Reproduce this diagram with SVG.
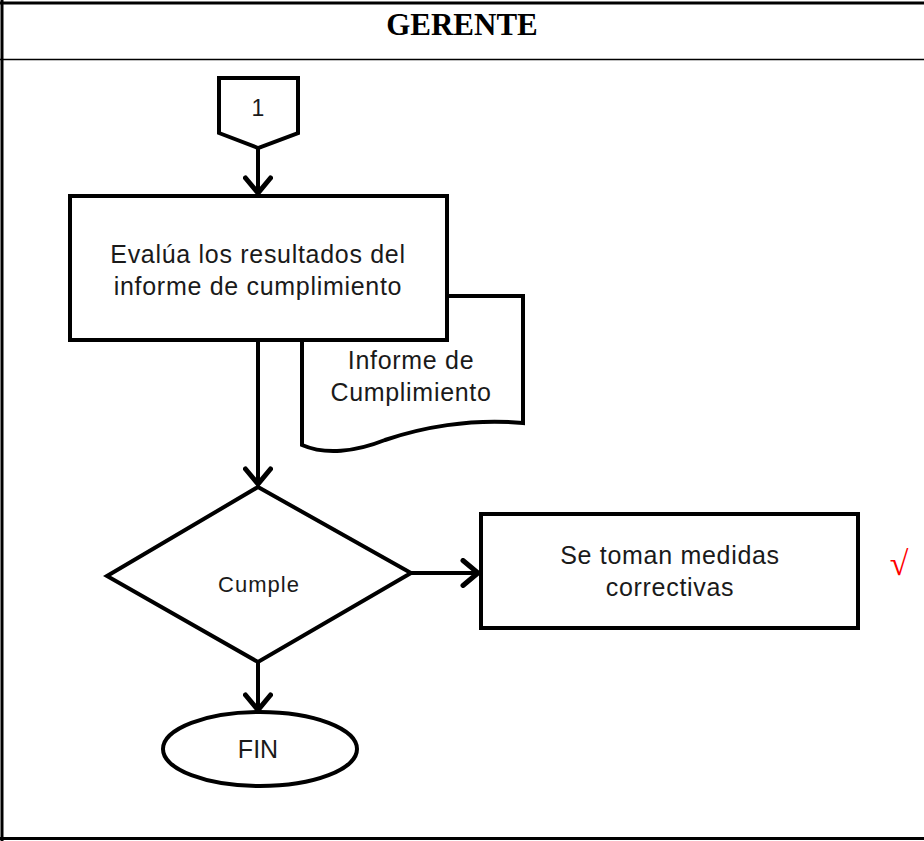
<svg xmlns="http://www.w3.org/2000/svg" width="924" height="841" viewBox="0 0 924 841">
<style>
.shape{fill:#fff;stroke:#000;stroke-width:4;stroke-linejoin:miter}
.conn{fill:none;stroke:#000;stroke-width:4}
.t{font-family:"Liberation Sans",Arial,sans-serif;font-size:25px;letter-spacing:0.7px;fill:#1a1a1a;text-anchor:middle}
.frame{stroke:#000;fill:none}
</style>
<defs>
<marker id="arr" markerUnits="userSpaceOnUse" markerWidth="30" markerHeight="30" viewBox="-16 -12 18 24" refX="0" refY="0" orient="auto">
<path d="M-12,-10 L0,0 L-12,10" fill="none" stroke="#000" stroke-width="4" stroke-linecap="round"/>
</marker>
</defs>
<rect width="924" height="841" fill="#fff"/>
<g id="frame">
<line class="frame" x1="0" y1="3" x2="924" y2="3" stroke-width="3"/>
<line class="frame" x1="2" y1="0" x2="2" y2="841" stroke-width="3"/>
<line class="frame" x1="0" y1="838.5" x2="924" y2="838.5" stroke-width="3"/>
<line class="frame" x1="0" y1="59.5" x2="924" y2="59.5" stroke-width="1.5"/>
<text x="462" y="35" style="font-family:'Liberation Serif','Times New Roman',serif;font-size:31px;font-weight:bold;text-anchor:middle">GERENTE</text>
</g>
<g id="connectors">
<line class="conn" x1="258" y1="148" x2="258" y2="193" marker-end="url(#arr)"/>
<line class="conn" x1="258" y1="341" x2="258" y2="484" marker-end="url(#arr)"/>
<line class="conn" x1="411" y1="573" x2="478" y2="573" marker-end="url(#arr)"/>
<line class="conn" x1="258" y1="662" x2="258" y2="710" marker-end="url(#arr)"/>
</g>
<g id="n_doc">
<path class="shape" d="M302,296 L523,296 L523,423 C470,418 420,428 385,440 C355,452 325,455 302,445 Z"/>
<text class="t" x="411" y="369">Informe de</text>
<text class="t" x="411" y="401">Cumplimiento</text>
</g>
<g id="n_connector1">
<path class="shape" d="M219,78 L298,78 L298,133 L258,148 L219,133 Z"/>
<text class="t" x="258" y="116" style="font-size:23px;letter-spacing:0">1</text>
</g>
<g id="n_evalua">
<rect class="shape" x="70" y="196" width="377" height="144"/>
<text class="t" x="258" y="263">Evalúa los resultados del</text>
<text class="t" x="258" y="295">informe de cumplimiento</text>
</g>
<g id="n_cumple">
<path class="shape" d="M258,487 L411,573 L258,662 L107,576 Z"/>
<text class="t" x="259" y="592" style="font-size:22px;letter-spacing:1px">Cumple</text>
</g>
<g id="n_medidas">
<rect class="shape" x="481" y="514" width="377" height="114"/>
<text class="t" x="670" y="564">Se toman medidas</text>
<text class="t" x="670" y="596">correctivas</text>
</g>
<g id="n_fin">
<ellipse class="shape" cx="260" cy="749" rx="97" ry="37"/>
<text class="t" x="258" y="758" style="letter-spacing:0">FIN</text>
</g>
<text x="899" y="575" style="font-family:'Liberation Serif','Times New Roman',serif;font-size:34px;fill:#f00;text-anchor:middle">√</text>
</svg>
